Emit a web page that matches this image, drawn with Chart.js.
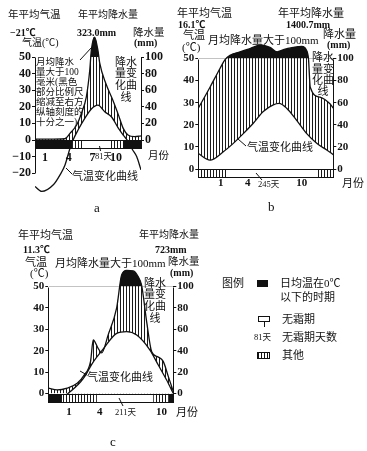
<!DOCTYPE html>
<html>
<head>
<meta charset="utf-8">
<title>气候资料图 a b c</title>
<script src="https://cdn.jsdelivr.net/npm/chart.js@4.4.1/dist/chart.umd.min.js"></script>
<style>
  html, body { margin: 0; background: #fff; }
  #page { position: relative; width: 367px; height: 451px; overflow: hidden; }
  #page canvas { position: absolute; left: 0; top: 0; }
  .t { position: absolute; white-space: pre; line-height: 1; color: #111;
       font-family: "Liberation Serif", "Noto Sans CJK SC", serif; font-size: 11px; }
  .num { font-weight: bold; font-size: 10px; }
  .sm { font-size: 8.5px; }
  .stack { width: 22px; text-align: center; }
  .key { position: absolute; box-sizing: border-box; border: 1px solid #111; }
  svg { position: absolute; left: 0; top: 0; }
</style>
</head>
<body>
<div id="page">
  <canvas id="chartA" width="367" height="451"></canvas>
  <canvas id="chartB" width="367" height="451"></canvas>
  <canvas id="chartC" width="367" height="451"></canvas>

  <!-- a -->
  <div class="t" style="left:8px;top:10px;font-size:10.5px">年平均气温</div>
  <div class="t num" style="left:10px;top:28px">−21℃</div>
  <div class="t" style="left:22px;top:38px;font-size:10px">气温(℃)</div>
  <div class="t" style="left:78px;top:10px;font-size:10px">年平均降水量</div>
  <div class="t num" style="left:77px;top:28px">323.0mm</div>
  <div class="t" style="left:133px;top:28px;font-size:10.5px">降水量</div>
  <div class="t num" style="left:134px;top:38px">(mm)</div>
  <div class="t" style="left:36px;top:56.5px;font-size:9.5px;line-height:10px">月均降水
量大于100
毫米(黑色
部分比例尺
缩减至右方
纵轴刻度的
十分之一)</div>
  <div class="t stack" style="left:115px;top:56.7px;line-height:11.7px">降水
量变
化曲
线</div>
  <div class="t" style="left:72px;top:170.5px">气温变化曲线</div>
  <div class="t sm" style="left:95px;top:152px">81天</div>
  <div class="t" style="left:148px;top:150.5px;font-size:10.5px">月份</div>
  <div class="t" style="left:94px;top:201px;font-size:13px">a</div>

  <!-- b -->
  <div class="t" style="left:177px;top:7.5px">年平均气温</div>
  <div class="t num" style="left:178px;top:20px">16.1℃</div>
  <div class="t" style="left:183px;top:29.5px">气温</div>
  <div class="t" style="left:182px;top:41.5px">(℃)</div>
  <div class="t" style="left:278px;top:7.5px">年平均降水量</div>
  <div class="t num" style="left:286px;top:20px">1400.7mm</div>
  <div class="t" style="left:208px;top:34.5px">月均降水量大于100mm</div>
  <div class="t" style="left:323px;top:29px">降水量</div>
  <div class="t num" style="left:327px;top:40px">(mm)</div>
  <div class="t stack" style="left:312px;top:52.3px;line-height:11.3px">降水
量变
化曲
线</div>
  <div class="t" style="left:247px;top:141.5px">气温变化曲线</div>
  <div class="t sm" style="left:258px;top:180px">245天</div>
  <div class="t" style="left:342px;top:177.5px">月份</div>
  <div class="t" style="left:268px;top:200px;font-size:13px">b</div>

  <!-- c -->
  <div class="t" style="left:18px;top:229.5px">年平均气温</div>
  <div class="t num" style="left:23px;top:245px">11.3℃</div>
  <div class="t" style="left:25px;top:256.5px">气温</div>
  <div class="t" style="left:30px;top:267.5px">(℃)</div>
  <div class="t" style="left:55px;top:257.5px">月均降水量大于100mm</div>
  <div class="t" style="left:139px;top:230px;font-size:10px">年平均降水量</div>
  <div class="t num" style="left:155px;top:245px">723mm</div>
  <div class="t" style="left:168px;top:256.5px;font-size:10.5px">降水量</div>
  <div class="t num" style="left:170px;top:268px">(mm)</div>
  <div class="t stack" style="left:144px;top:277.5px;line-height:11.7px">降水
量变
化曲
线</div>
  <div class="t" style="left:87px;top:371.5px">气温变化曲线</div>
  <div class="t sm" style="left:115px;top:408px">211天</div>
  <div class="t" style="left:176px;top:406.5px">月份</div>
  <div class="t" style="left:110px;top:435px;font-size:13px">c</div>

  <!-- 图例 -->
  <div class="t" style="left:222px;top:277.5px">图例</div>
  <div class="key" style="left:257px;top:280px;width:11px;height:7px;background:#111"></div>
  <div class="t" style="left:280px;top:277.5px">日均温在0℃</div>
  <div class="t" style="left:280px;top:291.5px">以下的时期</div>
  <div class="key" style="left:258px;top:316px;width:12px;height:6px;background:#fff"></div>
  <div class="t" style="left:282px;top:313.5px">无霜期</div>
  <div class="t sm" style="left:254px;top:333px">81天</div>
  <div class="t" style="left:282px;top:331.5px">无霜期天数</div>
  <div class="key" style="left:257px;top:352px;width:13px;height:7px;background:repeating-linear-gradient(90deg,#111 0 1px,#fff 1px 3px)"></div>
  <div class="t" style="left:282px;top:349.5px">其他</div>

  <svg width="367" height="451" stroke="#111" stroke-width="1">
    <line x1="80" y1="60" x2="92" y2="47"/>
    <line x1="72" y1="174" x2="66" y2="168"/>
    <line x1="99.5" y1="146" x2="100.5" y2="151"/>
    <line x1="238" y1="139" x2="246" y2="146"/>
    <line x1="256" y1="173" x2="262" y2="180"/>
    <line x1="87" y1="375" x2="80" y2="371"/>
    <line x1="119" y1="398" x2="123" y2="406"/>
    <line x1="264.5" y1="322" x2="264.5" y2="327"/>
  </svg>
</div>

<script>
// ---- a ----  (months are positions along the drawn time axis)
const aMonthTicks = [1, 4, 7, 10]
const aPrecipMonth = [-0.27, 1.4, 3.5, 4.16, 5.0, 5.6, 6.23, 6.66, 6.86, 7.27, 7.7, 7.92, 8.7, 9.5, 10.3, 10.9, 11.5, 12.35, 13.15]
const aPrecipMm = [1, 1, 1.5, 8, 18, 32, 52, 84, 180, 340, 180, 93, 68, 50, 30, 14, 6, 4, 5]
const aTempMonth = [-0.27, 0.58, 2.05, 2.9, 3.53, 4.16, 4.55, 5.18, 6.03, 6.86, 7.7, 8.56, 9.4, 10.3, 10.9, 11.4, 12.1, 12.6, 13.15]
const aTempC = [-28, -31, -27, -21, -15, -5, 0, 6, 13, 18.7, 21, 17, 14, 7, 3, 0, -6, -10, -18]
const aPeriods = ["frost", "other", "frostFree", "other", "frost"]
const aBreaks = [-0.27, 4.42, 5.81, 9.23, 10.87, 13.15]

// ---- b ----
const bMonthTicks = [1, 4, 10]
const bPrecipMonth = [-1.49, -0.19, 0.92, 1.48, 2.03, 3.14, 4.26, 5.37, 6.48, 7.26, 7.96, 9.07, 10.0, 10.5, 10.75, 10.95, 12.03, 13.14, 13.51]
const bPrecipMm = [55, 74, 91, 99, 130, 160, 190, 220, 200, 160, 180, 200, 210, 180, 100, 74, 65, 59, 55]
const bTempMonth = [-1.49, -0.19, 1.29, 2.4, 3.51, 4.62, 5.73, 6.84, 7.48, 8.33, 9.44, 10.56, 11.67, 12.78, 13.51]
const bTempC = [7, 4, 7.8, 11.6, 16, 20.7, 26, 29, 29.7, 27.5, 22, 16, 11.6, 8.6, 6.5]
const bPeriods = ["other", "frostFree", "other"]
const bBreaks = [-1.49, 1.67, 11.67, 13.51]

// ---- c ----
const cMonthTicks = [1, 4, 10]
const cPrecipMonth = [-1.01, -0.14, 0.83, 1.8, 2.46, 3.1, 3.36, 3.85, 4.18, 4.82, 5.64, 6.13, 6.61, 7.25, 7.74, 8.07, 8.56, 9.05, 9.69, 10.17, 10.66, 11.15]
const cPrecipMm = [5, 3.3, 5, 9.5, 17, 30, 50, 42, 38, 55, 80, 210, 250, 245, 190, 110, 67, 39, 34, 30, 16, 2]
const cTempMonth = [-1.01, 0.3, 0.9, 2.14, 2.62, 3.26, 4.34, 5.64, 6.61, 7.59, 8.88, 9.69, 10.5, 11.15]
const cTempC = [-3, -2, 0, 5.5, 8.6, 14, 20.8, 28.1, 28.9, 27.3, 20.3, 13.3, 6.3, 0]
const cPeriods = ["frost", "other", "frostFree", "other", "frost"]
const cBreaks = [-1.01, 0.32, 3.72, 9.2, 10.66, 11.15]

const tempTicks = [0, 10, 20, 30, 40, 50]
const precipTicks = [0, 20, 40, 60, 80, 100]

// above 100 mm the black part is drawn at one tenth of the right axis scale
const squash = (p) => (p <= 100 ? p : 100 + (p - 100) / 10)
const pts = (xs, ys) => xs.map((m, i) => ({ x: m, y: ys[i] }))

const HATCH = (() => {
  const c = document.createElement("canvas")
  c.width = 3
  c.height = 6
  const g = c.getContext("2d")
  g.fillStyle = "#fff"
  g.fillRect(0, 0, 3, 6)
  g.fillStyle = "#1a1a1a"
  g.fillRect(0, 0, 1, 6)
  return g.createPattern(c, "repeat")
})()
const periodFill = { frost: "#111", frostFree: "#fff", other: HATCH }
const NONE = "rgba(0,0,0,0)"

// frost bar under the zero line + the two axis lines
const panelPlugin = {
  id: "panel",
  afterDatasetsDraw(chart, args, opts) {
    const { ctx, chartArea: area } = chart
    const { x, y, y2 } = chart.scales
    const px = (v) => Math.round(v) + 0.5
    const top = px(y.getPixelForValue(0))
    const bot = px(y.getPixelForValue(opts.barDepth))
    ctx.save()
    for (let i = 0; i < opts.periods.length; i++) {
      const x0 = x.getPixelForValue(opts.breaks[i])
      const x1 = x.getPixelForValue(opts.breaks[i + 1])
      ctx.fillStyle = periodFill[opts.periods[i]]
      ctx.fillRect(x0, top, x1 - x0, bot - top)
    }
    ctx.strokeStyle = "#111"
    ctx.lineWidth = 1
    ctx.strokeRect(px(area.left), top, px(area.right) - px(area.left), bot - top)
    ctx.beginPath()
    ctx.moveTo(px(area.left), px(y.getPixelForValue(opts.leftAxis[0])))
    ctx.lineTo(px(area.left), px(y.getPixelForValue(opts.leftAxis[1])))
    ctx.moveTo(px(area.right), px(y2.getPixelForValue(opts.rightAxis[0])))
    ctx.lineTo(px(area.right), px(y2.getPixelForValue(opts.rightAxis[1])))
    ctx.stroke()
    ctx.restore()
  },
}

function makeChart(id, cfg) {
  const precip = pts(cfg.precipMonth, cfg.precipMm.map(squash))
  const temp = pts(cfg.tempMonth, cfg.tempC)
  // place the plot area where the drawing has it (0 degC line, scale per degree)
  const g = cfg.geo
  const axisW = 26
  const padding = {
    left: g.left - axisW,
    right: 367 - g.right - axisW,
    top: g.zeroY - cfg.max * g.perDeg,
    bottom: 451 - (g.zeroY - cfg.min * g.perDeg),
  }
  const tickFont = { family: '"Liberation Serif", serif', size: cfg.tickSize, weight: "bold" }
  const yTick = (v) => (v < 0 ? "−" + -v : "" + v)

  return new Chart(document.getElementById(id), {
    type: "line",
    data: {
      datasets: [
        { label: "降水量", data: precip, yAxisID: "y2", borderColor: "#111", borderWidth: 1.3, fill: false },
        {
          label: "大于100mm",
          data: precip,
          yAxisID: "y2",
          borderColor: NONE,
          fill: { target: { value: 100 }, above: "#111", below: NONE },
        },
        {
          label: "气温",
          data: temp,
          yAxisID: "y",
          borderColor: "#111",
          borderWidth: 1.3,
          fill: { target: { value: 0 }, above: "#fff", below: NONE },
        },
        {
          label: "其他",
          data: precip,
          yAxisID: "y2",
          borderColor: NONE,
          backgroundColor: HATCH,
          fill: { target: { value: 0 }, above: HATCH, below: NONE },
        },
      ],
    },
    options: {
      responsive: false,
      animation: false,
      devicePixelRatio: 1,
      layout: { padding },
      elements: { point: { radius: 0 }, line: { cubicInterpolationMode: "monotone" } },
      plugins: {
        legend: { display: false },
        tooltip: { enabled: false },
        panel: {
          barDepth: cfg.barDepth,
          periods: cfg.periods,
          breaks: cfg.breaks,
          leftAxis: cfg.leftAxis,
          rightAxis: [100, 0],
        },
      },
      scales: {
        x: {
          type: "linear",
          z: 2,
          min: cfg.breaks[0],
          max: cfg.breaks[cfg.breaks.length - 1],
          position: { y: cfg.barDepth },
          grid: { display: false, drawTicks: false },
          border: { display: false },
          ticks: { color: "#111", font: tickFont, padding: cfg.monthPad, autoSkip: false, maxRotation: 0 },
          afterBuildTicks: (s) => {
            s.ticks = cfg.monthTicks.map((v) => ({ value: v }))
          },
        },
        y: {
          position: "left",
          min: cfg.min,
          max: cfg.max,
          afterFit: (s) => {
            s.width = axisW
          },
          afterBuildTicks: (s) => {
            s.ticks = cfg.leftTicks.map((v) => ({ value: v }))
          },
          grid: { drawOnChartArea: false, tickLength: 3, color: "#111" },
          border: { display: false },
          ticks: { color: "#111", font: tickFont, padding: 1, callback: yTick },
        },
        y2: {
          position: "right",
          min: cfg.min * 2,
          max: cfg.max * 2,
          afterFit: (s) => {
            s.width = axisW
          },
          afterBuildTicks: (s) => {
            s.ticks = precipTicks.map((v) => ({ value: v }))
          },
          grid: { drawOnChartArea: false, tickLength: 3, color: "#111" },
          border: { display: false },
          ticks: { color: "#111", font: tickFont, padding: 1 },
        },
      },
    },
    plugins: [panelPlugin],
  })
}

document.addEventListener("DOMContentLoaded", () => {
  makeChart("chartA", {
    precipMonth: aPrecipMonth, precipMm: aPrecipMm, tempMonth: aTempMonth, tempC: aTempC,
    periods: aPeriods, breaks: aBreaks, monthTicks: aMonthTicks,
    leftTicks: [-20, -10].concat(tempTicks), leftAxis: [50, -20],
    min: -36, max: 64, barDepth: -5, tickSize: 12, monthPad: 2,
    geo: { left: 35, right: 141, zeroY: 140, perDeg: 1.66 },
  })
  makeChart("chartB", {
    precipMonth: bPrecipMonth, precipMm: bPrecipMm, tempMonth: bTempMonth, tempC: bTempC,
    periods: bPeriods, breaks: bBreaks, monthTicks: bMonthTicks,
    leftTicks: tempTicks, leftAxis: [50, 0],
    min: -3.6, max: 58, barDepth: -3.6, tickSize: 11, monthPad: 0,
    geo: { left: 198.3, right: 333.3, zeroY: 169, perDeg: 2.21 },
  })
  makeChart("chartC", {
    precipMonth: cPrecipMonth, precipMm: cPrecipMm, tempMonth: cTempMonth, tempC: cTempC,
    periods: cPeriods, breaks: cBreaks, monthTicks: cMonthTicks,
    leftTicks: tempTicks, leftAxis: [50, 0],
    min: -4.2, max: 59, barDepth: -4.2, tickSize: 11, monthPad: 3,
    geo: { left: 48.3, right: 173.3, zeroY: 393.5, perDeg: 2.14 },
  })
})
</script>
</body>
</html>
